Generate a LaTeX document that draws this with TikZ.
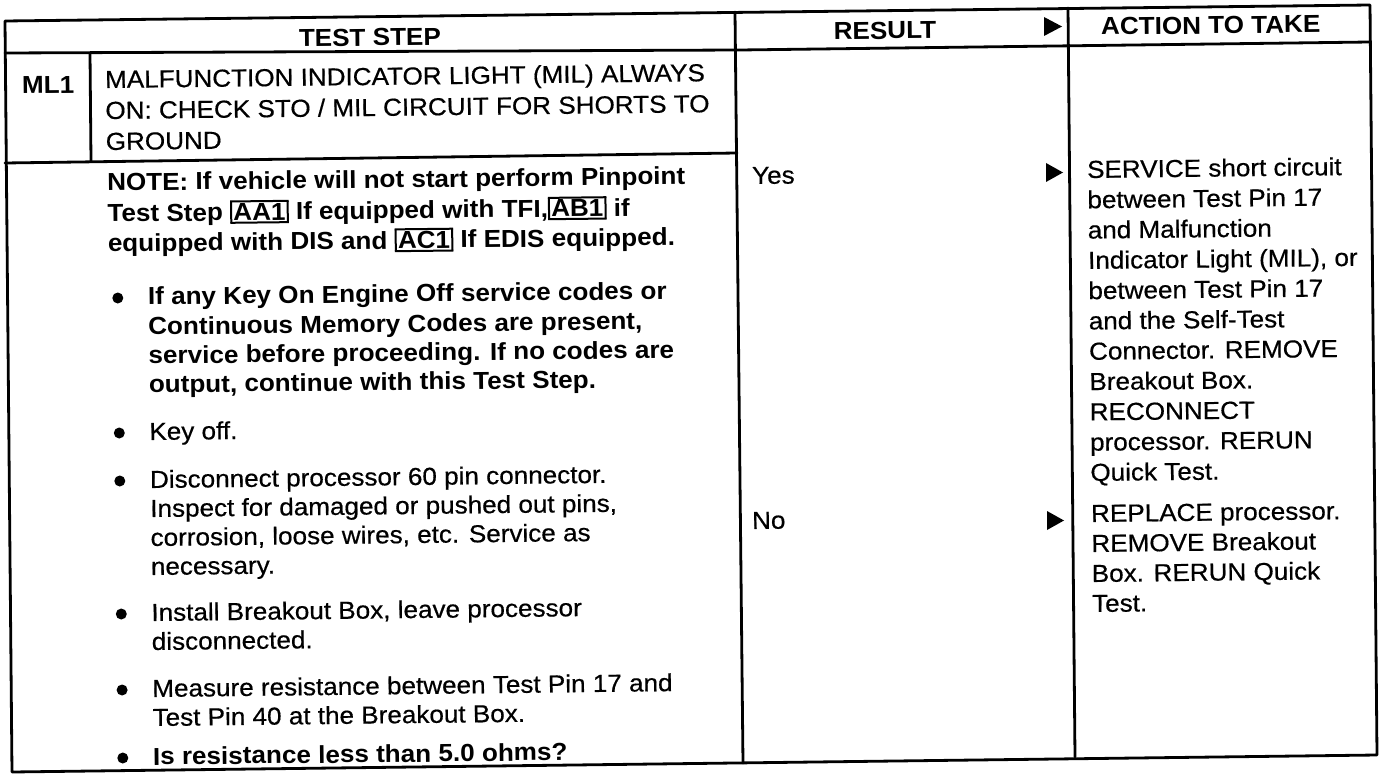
\documentclass[tikz,border=0pt]{standalone}
\usepackage{fontspec}
\setmainfont{Liberation Sans}[FakeStretch=1.06, UprightFeatures={FakeBold=0.5}]
\newcommand\bx[1]{{\setlength\fboxsep{1.2pt}\setlength\fboxrule{2pt}\fbox{#1}}}
\begin{document}
\begin{tikzpicture}[x=1pt,y=-1pt,
  rule/.style={line width=2.8pt, line cap=round, line join=round},
  txt/.style={inner sep=0pt, anchor=base west, rotate=0.65, font=\fontsize{24.6pt}{29.5pt}\selectfont},
  btxt/.style={txt, font=\fontsize{24.6pt}{29.5pt}\selectfont\bfseries},
  hd/.style={btxt, anchor=base},
  dot/.style={circle, fill=black, inner sep=0pt, minimum size=11pt},
  tri/.style={fill=black}]
\fill[white] (0,0) rectangle (1392,778);
\useasboundingbox (0,0) rectangle (1392,778);
% corners
\coordinate (TL) at (5,21);
\coordinate (TR) at (1370,5);
\coordinate (BL) at (12,772);
\coordinate (BR) at (1377,755);
\coordinate (H1) at (5,53);
\coordinate (H2) at (740,50);
\coordinate (H3) at (1370,42);
\coordinate (M1) at (5,163);
\coordinate (M2) at (737,153);
\coordinate (D1) at (90,53);
\coordinate (D2) at (91,161);
\coordinate (C1t) at (735,12);
\coordinate (C1b) at (743,763);
\coordinate (C2t) at (1068,8);
\coordinate (C2b) at (1075,757);
% grid
\draw[rule] (TL) -- (TR) -- (BR) -- (BL) -- cycle;
\draw[rule] (H1) -- (H2) -- (H3);
\draw[rule] (M1) -- (M2);
\draw[rule] (D1) -- (D2);
\draw[rule] (C1t) -- (C1b);
\draw[rule] (C2t) -- (C2b);
% headers
\node[hd] (hTest) at (370,46) {TEST STEP};
\node[hd] (hRes) at (885,39) {RESULT};
\node[btxt] (hAct) at (1101,35) {ACTION TO TAKE};
\fill[tri] (1044,17) -- (1062,26.5) -- (1044,36) -- cycle;
% ML1 row
\node[btxt] (ml1) at (22,94) {ML1};
\node[txt] (t1) at (105,88) {MALFUNCTION INDICATOR LIGHT (MIL) ALWAYS};
\node[txt] (t2) at (105.3,119) {ON: CHECK STO / MIL CIRCUIT FOR SHORTS TO};
\node[txt] (t3) at (105.7,150) {GROUND};
% note
\node[btxt] (n1) at (107.1,191) {NOTE: If vehicle will not start perform Pinpoint};
\node[btxt] (n2) at (107.4,222) {Test Step \bx{AA1} If equipped with TFI,\bx{AB1} if};
\node[btxt] (n3) at (107.8,252) {equipped with DIS and \bx{AC1} If EDIS equipped.};
% bullets
\node[dot] (b1) at (117.8,298) {};
\node[btxt] (b1a) at (147.9,305) {If any Key On Engine Off service codes or};
\node[btxt] (b1b) at (148.2,335) {Continuous Memory Codes are present,};
\node[btxt] (b1c) at (148.5,364) {service before proceeding. If no codes are};
\node[btxt] (b1d) at (148.8,393) {output, continue with this Test Step.};
\node[dot] (b2) at (119.3,433) {};
\node[txt] (b2a) at (149.3,440) {Key off.};
\node[dot] (b3) at (119.8,481) {};
\node[txt] (b3a) at (149.9,488) {Disconnect processor 60 pin connector.};
\node[txt] (b3b) at (150.2,517) {Inspect for damaged or pushed out pins,};
\node[txt] (b3c) at (150.5,546) {corrosion, loose wires, etc. Service as};
\node[txt] (b3d) at (150.8,575) {necessary.};
\node[dot] (b4) at (121.3,614) {};
\node[txt] (b4a) at (151.3,621) {Install Breakout Box, leave processor};
\node[txt] (b4b) at (151.7,650) {disconnected.};
\node[dot] (b5) at (122.1,690) {};
\node[txt] (b5a) at (152.2,697) {Measure resistance between Test Pin 17 and};
\node[txt] (b5b) at (152.5,726) {Test Pin 40 at the Breakout Box.};
\node[dot] (b6) at (122.8,758) {};
\node[btxt] (b6a) at (152.9,765) {Is resistance less than 5.0 ohms?};
% results
\node[txt] (yes) at (752,184) {Yes};
\node[txt] (no) at (752,529) {No};
\fill[tri] (1046,163) -- (1063,172.5) -- (1046,182) -- cycle;
\fill[tri] (1047,511) -- (1064,520.5) -- (1047,530) -- cycle;
% actions
\foreach \t [count=\i from 0] in {SERVICE short circuit, between Test Pin 17, and Malfunction, {Indicator Light (MIL), or}, between Test Pin 17, and the Self-Test, Connector. REMOVE, Breakout Box., RECONNECT, processor. RERUN, Quick Test.}
  \node[txt] (a\i) at ({1087+0.33*\i},{178+30.3*\i}) {\t};
\foreach \t [count=\i from 0] in {REPLACE processor., REMOVE Breakout, Box. RERUN Quick, Test.}
  \node[txt] (r\i) at ({1091+0.33*\i},{522+30*\i}) {\t};
\end{tikzpicture}
\end{document}
